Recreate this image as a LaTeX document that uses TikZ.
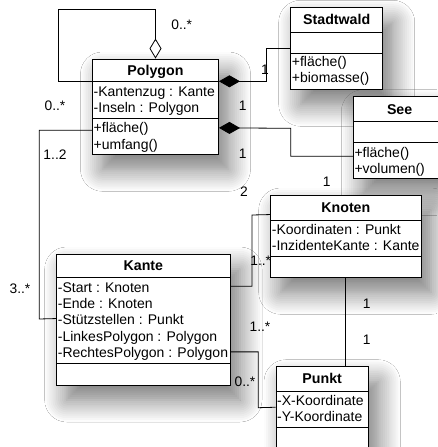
\documentclass[tikz,border=0pt]{standalone}
\usepackage{fontspec}
\setmainfont{Liberation Sans}
\usetikzlibrary{arrows.meta,calc,fit,shadows.blur}
\newcommand\umlclass[8]{%
  \node[box, fit={(#2,#3) (#4,#7)}] (#1) {};
  \coordinate (#1-s1) at (#2,#5);
  \coordinate (#1-s2) at (#2,#6);
  \draw[sepline] (#1-s1) -- (#1-s1 -| #1.east);
  \draw[sepline] (#1-s2) -- (#1-s2 -| #1.east);
  \node[ttl] (#1-title) at ({(#2+#4)/2}, {(#3+#5)/2+5}) {#8};
}
\newcommand\umllines[4]{%
  \foreach \mytext [count=\i] in {#4} {\node[txt] (#1-\i) at ({#2+1}, {#3+16.3*(\i-1)}) {\mytext};}
}
\begin{document}
\begin{tikzpicture}[x=1pt,y=-1pt,
  box/.style={draw, line width=0.9pt, fill=white, inner sep=0pt,
    blur shadow={shadow xshift=10pt, shadow yshift=-15pt, shadow blur radius=22pt, shadow opacity=55, shadow blur steps=12}},
  sepline/.style={line width=0.9pt},
  txt/.style={inner sep=0pt, anchor=base west, font=\fontsize{14}{16}\selectfont},
  ttl/.style={inner sep=0pt, anchor=base, font=\fontsize{14.2}{16}\selectfont\bfseries},
  lbl/.style={inner sep=0pt, font=\fontsize{13.8}{16}\selectfont},
  conn/.style={line width=0.8pt},
  ]
\useasboundingbox (0,0) rectangle (437,447);
\fill[white] (0,0) rectangle (437,447);

% classes
\umlclass{poly}{92.5}{59}{218.5}{81.3}{118.3}{154.3}{Polygon}
\umllines{polya}{92.5}{96.5}{-Kantenzug : Kante,-Inseln : Polygon}
\umllines{polym}{92.5}{132.8}{+fläche(),+umfang()}

\umlclass{sw}{290.7}{7.3}{382.7}{32.3}{53.3}{89.3}{Stadtwald}
\umllines{swm}{290.7}{66.5}{+fläche(),+biomasse()}

\umlclass{see}{353.3}{96.7}{446}{121.7}{142.7}{178.3}{See}
\umllines{seem}{353.3}{157}{+fläche(),+volumen()}

\umlclass{knoten}{270.7}{195}{421}{220}{256}{277.3}{Knoten}
\umllines{knotena}{270.7}{234.5}{-Koordinaten : Punkt,-InzidenteKante : Kante}

\umlclass{kante}{56.7}{254}{230}{277.7}{363.3}{385}{Kante}
\umllines{kantea}{56.7}{292.3}{-Start : Knoten,-Ende : Knoten,-Stützstellen : Punkt,-LinkesPolygon : Polygon,-RechtesPolygon : Polygon}

\umlclass{punkt}{276}{366.7}{368.3}{391}{427.3}{452}{Punkt}
\umllines{punkta}{276}{405.2}{-X-Koordinate,-Y-Koordinate}

% connectors
\draw[conn, -{Diamond[length=20pt, width=12pt, fill=white, line width=0.8pt]}]
  (poly-s1) -| (58.3,9.3) -| (poly.north);
\draw[conn, -{Diamond[length=21pt, width=12pt]}]
  (sw.west) -| (266,81.3) -- (poly-s1 -| poly.east);
\draw[conn, -{Diamond[length=21pt, width=12pt]}]
  ($(see.north west)+(0,60)$) -| (290.7,128.3) -- ($(poly.north east)+(0,69.3)$);
\draw[conn] ($(poly.north west)+(0,71.7)$) -| (39.3,319) -- ($(kante.north west)+(0,65)$);
\draw[conn] ($(kante.north east)+(0,32.7)$) -| (252,215) -- ($(knoten.north west)+(0,20)$);
\draw[conn] (knoten.south) -- (knoten.south |- punkt.north);
\draw[conn] ($(kante.north east)+(0,98.3)$) -| (258.3,407.7) -- ($(punkt.north west)+(0,41)$);

% multiplicities
\node[lbl] (m1) at (181.7,25) {0..*};
\node[lbl] (m2) at (265,70) {1};
\node[lbl] (m3) at (242.7,106) {1};
\node[lbl] (m4) at (242.7,154) {1};
\node[lbl] (m5) at (55,106) {0..*};
\node[lbl] (m6) at (55,155) {1..2};
\node[lbl] (m7) at (326.7,181.7) {1};
\node[lbl] (m8) at (244,192) {2};
\node[lbl] (m9) at (260.7,261) {1..*};
\node[lbl] (m10) at (20,289) {3..*};
\node[lbl] (m11) at (366.7,303.3) {1};
\node[lbl] (m12) at (260,326.7) {1..*};
\node[lbl] (m13) at (366.7,339.3) {1};
\node[lbl] (m14) at (245,381.7) {0..*};
\end{tikzpicture}
\end{document}
